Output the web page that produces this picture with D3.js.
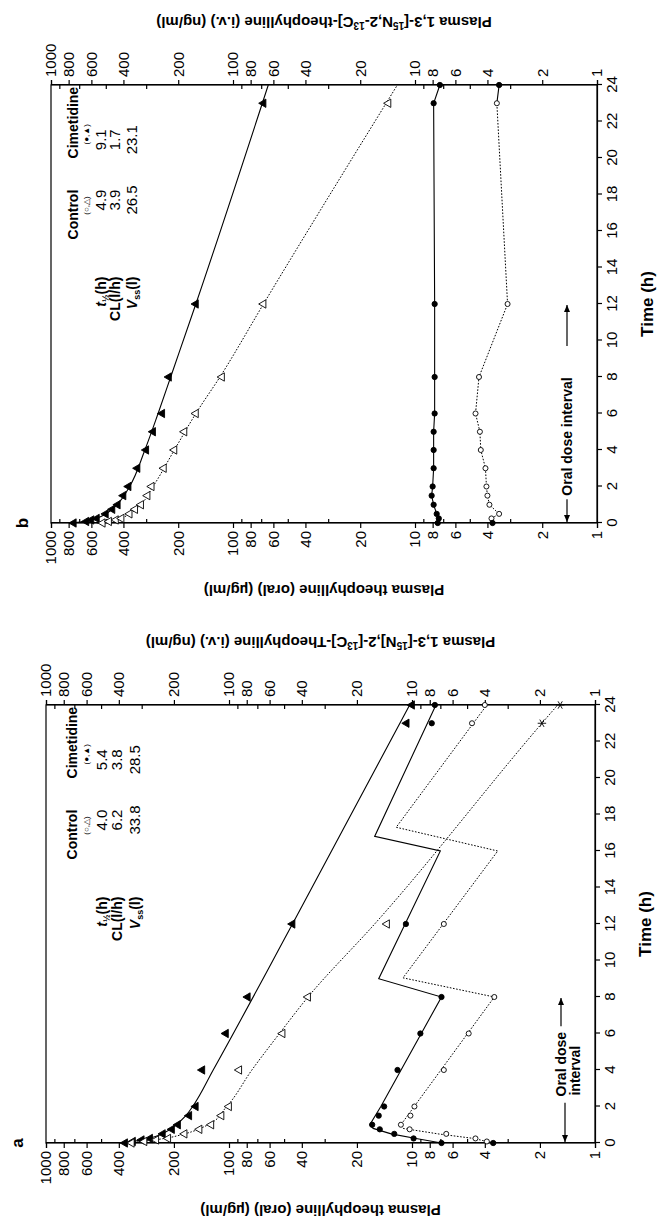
<!DOCTYPE html>
<html>
<head>
<meta charset="utf-8">
<script src="https://cdn.jsdelivr.net/npm/d3@7"></script>
<style>
  body { margin: 0; background: #fff; }
  svg { display: block; font-family: "Liberation Sans", Arial, sans-serif; }
  .axis path, .axis line { stroke: #000; stroke-width: 1.2; }
  .axis text { font-size: 15px; fill: #000; font-family: "Liberation Sans", Arial, sans-serif; }
  .minor path { display: none; }
</style>
</head>
<body>
<svg id="chart" width="661" height="1222"></svg>
<script>
// tick labels
const timeTicks = [0, 2, 4, 6, 8, 10, 12, 14, 16, 18, 20, 22, 24];
const concMajor = [1, 2, 4, 6, 8, 10, 20, 40, 60, 80, 100, 200, 400, 600, 800, 1000];
const concMinor = [3, 5, 7, 9, 30, 50, 70, 90, 300, 500, 700, 900];

// panel a : [time (h), concentration]
const aCimIv = [[0,370],[0.083,335],[0.167,300],[0.25,270],[0.5,230],[0.75,205],[1,190],[1.5,165],[2,152],[4,140],[6,104],[8,79],[12,45],[23,10.7],[24,10]];
const aCimIvFit = [[0,390],[0.1,330],[0.25,275],[0.5,232],[1,195],[1.5,172],[2,158],[4,122],[12,45],[24,10.3]];
const aConIv = [[0,340],[0.083,290],[0.167,250],[0.25,215],[0.5,175],[0.75,145],[1,125],[1.5,110],[2,100],[4,88],[6,51],[8,37],[12,13.7]];
const aConIvStar = [[23,1.95],[24,1.55]];
const aConIvFit = [[0,360],[0.1,290],[0.25,225],[0.5,175],[1,130],[2,103],[4,75],[6,53],[8,37],[12,16],[23,1.95],[24,1.6]];
const aCimOr = [[0,6.9],[0.25,9.8],[0.5,12.5],[0.75,15],[1,16.5],[1.5,15.2],[2,14.2],[4,12],[6,9],[8,6.9],[12,10.8],[23,7.8],[24,7.5]];
const aCimOrFit = [[0,6.9],[0.25,9.5],[0.5,13],[0.8,16.3],[1,17],[2,14.8],[8,6.9],[9,15.2],[16,7.0],[16.8,16],[24,7.4]];
const aConOr = [[0.083,3.9],[0.25,4.5],[0.5,6.5],[0.75,10.3],[1,11.5],[1.5,10.2],[2,9.7],[4,6.7],[6,4.9],[8,3.55],[12,6.7],[23,4.7],[24,4.0]];
const aConOrStart = [[0,3.6]];
const aConOrFit = [[0.083,3.9],[0.25,4.6],[0.5,7.2],[0.8,11.2],[1,11.5],[8,3.55],[9.05,11.2],[16,3.4],[17.3,12.2],[24,3.9]];

// panel b
const bCimIv = [[0,750],[0.083,640],[0.167,600],[0.25,560],[0.5,500],[0.75,460],[1,430],[1.5,400],[2,375],[3,335],[4,300],[5,275],[6,245],[8,225],[12,160],[23,68]];
const bCimIvFit = [[0,790],[0.1,640],[0.25,565],[0.5,500],[1,435],[2,370],[4,305],[6,258],[8,220],[12,160],[24,64]];
const bConIv = [[0,520],[0.083,480],[0.167,440],[0.25,410],[0.5,370],[0.75,345],[1,320],[1.5,295],[2,280],[3,240],[4,210],[5,185],[6,160],[8,115],[12,68],[23,14]];
const bConIvFit = [[0,560],[0.1,470],[0.25,415],[0.5,370],[1,322],[2,275],[4,210],[6,160],[8,118],[12,68],[24,12.5]];
const bCimOr = [[0,7.5],[0.25,7.4],[0.5,7.6],[1,7.9],[1.5,8.1],[2,8.0],[3,7.9],[4,7.9],[5,7.9],[6,7.8],[8,7.8],[12,7.8],[23,7.9],[24,7.3]];
const bConOr = [[0.25,3.8],[0.5,3.45],[1,3.9],[1.5,4.0],[2,4.05],[3,4.1],[4,4.35],[5,4.4],[6,4.65],[8,4.45],[12,3.1],[23,3.55]];
const bConOrEnds = [[0,3.75],[24,3.45]];

// kinetic tables
const aTable = [["4.0", "5.4"], ["6.2", "3.8"], ["33.8", "28.5"]];
const bTable = [["4.9", "9.1"], ["3.9", "1.7"], ["26.5", "23.1"]];

const svg = d3.select("#chart");
const timeLen = 438;

function panel(p) {
  const W = timeLen, H = p.H;
  // drawn in the upright frame, then turned a quarter turn anticlockwise
  const g = svg.append("g").attr("transform", `translate(${p.X0},${p.Y0}) rotate(-90)`);
  const x = d3.scaleLinear().domain([0, 24]).range([0, W]);
  const y = d3.scaleLog().domain([1, 1000]).range([H, 0]);

  g.append("rect").attr("width", W).attr("height", H)
    .attr("fill", "none").attr("stroke", "#000").attr("stroke-width", 1.2);

  g.append("g").attr("class", "axis").attr("transform", `translate(0,${H})`)
    .call(d3.axisBottom(x).tickValues(timeTicks).tickSize(5).tickPadding(4).tickFormat(d3.format("d")));

  g.append("g").attr("class", "axis")
    .call(d3.axisLeft(y).tickValues(concMajor).tickSize(5).tickPadding(3).tickFormat(d3.format("d")));
  g.append("g").attr("class", "axis minor")
    .call(d3.axisLeft(y).tickValues(concMinor).tickSize(-4).tickFormat(""));
  g.append("g").attr("class", "axis").attr("transform", `translate(${W},0)`)
    .call(d3.axisRight(y).tickValues(concMajor).tickSize(5).tickPadding(3).tickFormat(d3.format("d")));
  g.append("g").attr("class", "axis minor").attr("transform", `translate(${W},0)`)
    .call(d3.axisRight(y).tickValues(concMinor).tickSize(-4).tickFormat(""));

  // titles
  g.append("text").attr("x", W / 2).attr("y", H + 44).attr("dy", "0.71em")
    .attr("text-anchor", "middle").attr("font-size", 17).attr("font-weight", "bold").text("Time (h)");

  g.append("text").attr("transform", `translate(-62,${H / 2}) rotate(-90)`)
    .attr("text-anchor", "middle").attr("font-size", 15).attr("font-weight", "bold")
    .text("Plasma theophylline (oral) (µg/ml)");

  const iv = g.append("text").attr("transform", `translate(${W + 68},${H / 2}) rotate(-90)`)
    .attr("text-anchor", "middle").attr("font-size", 15).attr("font-weight", "bold");
  p.ivLabel.forEach(s => {
    iv.append("tspan").attr("dy", s.sup ? -5 : (s.after ? 5 : 0))
      .attr("font-size", s.sup ? 10 : 15).text(s.t);
  });

  g.append("text").attr("x", 0).attr("y", -23).attr("text-anchor", "middle")
    .attr("font-size", 17).attr("font-weight", "bold").text(p.id);

  const line = d3.line().x(d => x(d[0])).y(d => y(d[1]));
  const smooth = d3.line().x(d => x(d[0])).y(d => y(d[1])).curve(d3.curveMonotoneX);
  const draw = (pts, gen, dashed) => g.append("path").datum(pts).attr("d", gen)
    .attr("fill", "none").attr("stroke", "#000").attr("stroke-width", dashed ? 1 : 1.1)
    .attr("stroke-dasharray", dashed ? "1.6,1.6" : null);

  p.lines.forEach(l => draw(l.pts, l.smooth ? smooth : line, l.dashed));

  const mark = (pts, type, size, filled) => g.append("g").selectAll("path").data(pts).join("path")
    .attr("transform", d => `translate(${x(d[0])},${y(d[1])})`)
    .attr("d", d3.symbol(type, size))
    .attr("fill", filled ? "#000" : "#fff").attr("stroke", "#000").attr("stroke-width", 0.9);

  p.marks.forEach(m => mark(m.pts, m.type, m.size, m.filled));

  // table of kinetic parameters
  const tb = g.append("g").attr("font-size", 14);
  const r = p.rows;
  tb.append("text").attr("x", x(16.9)).attr("y", r[0]).attr("text-anchor", "middle").attr("font-weight", "bold").text("Control");
  tb.append("text").attr("x", x(23.9)).attr("y", r[0]).attr("text-anchor", "end").attr("font-weight", "bold").text("Cimetidine");
  tb.append("text").attr("x", x(17.4)).attr("y", r[1]).attr("text-anchor", "middle").attr("font-size", 8).text("(○,△)");
  tb.append("text").attr("x", x(21.3)).attr("y", r[1]).attr("text-anchor", "middle").attr("font-size", 8).text("(●,▲)");

  const lab0 = tb.append("text").attr("x", x(13.5)).attr("y", r[2]).attr("text-anchor", "end").attr("font-weight", "bold");
  lab0.append("tspan").attr("font-style", "italic").text("t");
  lab0.append("tspan").attr("font-size", 9).attr("dy", 3).text("½");
  lab0.append("tspan").attr("dy", -3).text("(h)");
  tb.append("text").attr("x", x(13.5)).attr("y", r[3]).attr("text-anchor", "end").attr("font-weight", "bold").text("CL(l/h)");
  const lab2 = tb.append("text").attr("x", x(13.5)).attr("y", r[4]).attr("text-anchor", "end").attr("font-weight", "bold");
  lab2.append("tspan").attr("font-style", "italic").text("V");
  lab2.append("tspan").attr("font-size", 9).attr("dy", 3).text("ss");
  lab2.append("tspan").attr("dy", -3).text("(l)");

  p.table.forEach((row, i) => {
    tb.append("text").attr("x", x(17.7)).attr("y", r[i + 2]).attr("text-anchor", "middle").attr("font-size", 15).text(row[0]);
    tb.append("text").attr("x", x(21.0)).attr("y", r[i + 2]).attr("text-anchor", "middle").attr("font-size", 15).text(row[1]);
  });

  // oral dose interval
  const arrow = (t0, t1, v) => {
    const a = x(t0), b = x(t1), dir = Math.sign(b - a);
    g.append("line").attr("x1", a).attr("x2", b).attr("y1", v).attr("y2", v).attr("stroke", "#000").attr("stroke-width", 1.2);
    g.append("path").attr("d", `M${b},${v}L${b - dir * 7},${v - 3}L${b - dir * 7},${v + 3}Z`).attr("fill", "#000");
  };
  const od = g.append("g").attr("font-size", 14).attr("font-weight", "bold");
  if (p.id === "a") {
    arrow(2.2, 0.05, H - 30);
    od.append("text").attr("x", x(2.55)).attr("y", H - 29).text("Oral dose");
    od.append("text").attr("x", x(2.6)).attr("y", H - 15).text("interval");
    arrow(6.4, 7.95, H - 34);
  } else {
    arrow(1.3, 0.05, H - 30);
    od.append("text").attr("x", x(1.5)).attr("y", H - 25).text("Oral dose interval");
    arrow(9.7, 11.95, H - 30);
  }
}

panel({
  id: "a", X0: 46, Y0: 1143, H: 549,
  rows: [31, 43, 61, 76, 94], table: aTable,
  ivLabel: [{t: "Plasma 1,3-["}, {t: "15", sup: true}, {t: "N],2-[", after: true}, {t: "13", sup: true}, {t: "C]-Theophylline (i.v.) (ng/ml)", after: true}],
  lines: [
    {pts: aCimIvFit, smooth: true}, {pts: aConIvFit, smooth: true, dashed: true},
    {pts: aCimOrFit}, {pts: aConOrFit, dashed: true},
    {pts: [aConOrStart[0], aConOr[0]]}
  ],
  marks: [
    {pts: aCimIv, type: d3.symbolTriangle, size: 30, filled: true},
    {pts: aConIv, type: d3.symbolTriangle, size: 30, filled: false},
    {pts: aConIvStar, type: d3.symbolAsterisk, size: 50, filled: true},
    {pts: aCimOr, type: d3.symbolCircle, size: 22, filled: true},
    {pts: aConOr, type: d3.symbolCircle, size: 20, filled: false},
    {pts: aConOrStart, type: d3.symbolCircle, size: 22, filled: true}
  ]
});

panel({
  id: "b", X0: 51, Y0: 523, H: 546,
  rows: [27, 38, 55, 69, 86], table: bTable,
  ivLabel: [{t: "Plasma 1,3-["}, {t: "15", sup: true}, {t: "N,2-", after: true}, {t: "13", sup: true}, {t: "C]-theophylline (i.v.) (ng/ml)", after: true}],
  lines: [
    {pts: bCimIvFit, smooth: true}, {pts: bConIvFit, smooth: true, dashed: true},
    {pts: bCimOr}, {pts: bConOr, dashed: true},
    {pts: [bConOrEnds[0], bConOr[0]]}, {pts: [bConOr[bConOr.length - 1], bConOrEnds[1]]}
  ],
  marks: [
    {pts: bCimIv, type: d3.symbolTriangle, size: 30, filled: true},
    {pts: bConIv, type: d3.symbolTriangle, size: 30, filled: false},
    {pts: bCimOr, type: d3.symbolCircle, size: 22, filled: true},
    {pts: bConOr, type: d3.symbolCircle, size: 20, filled: false},
    {pts: bConOrEnds, type: d3.symbolCircle, size: 22, filled: true}
  ]
});
</script>
</body>
</html>
